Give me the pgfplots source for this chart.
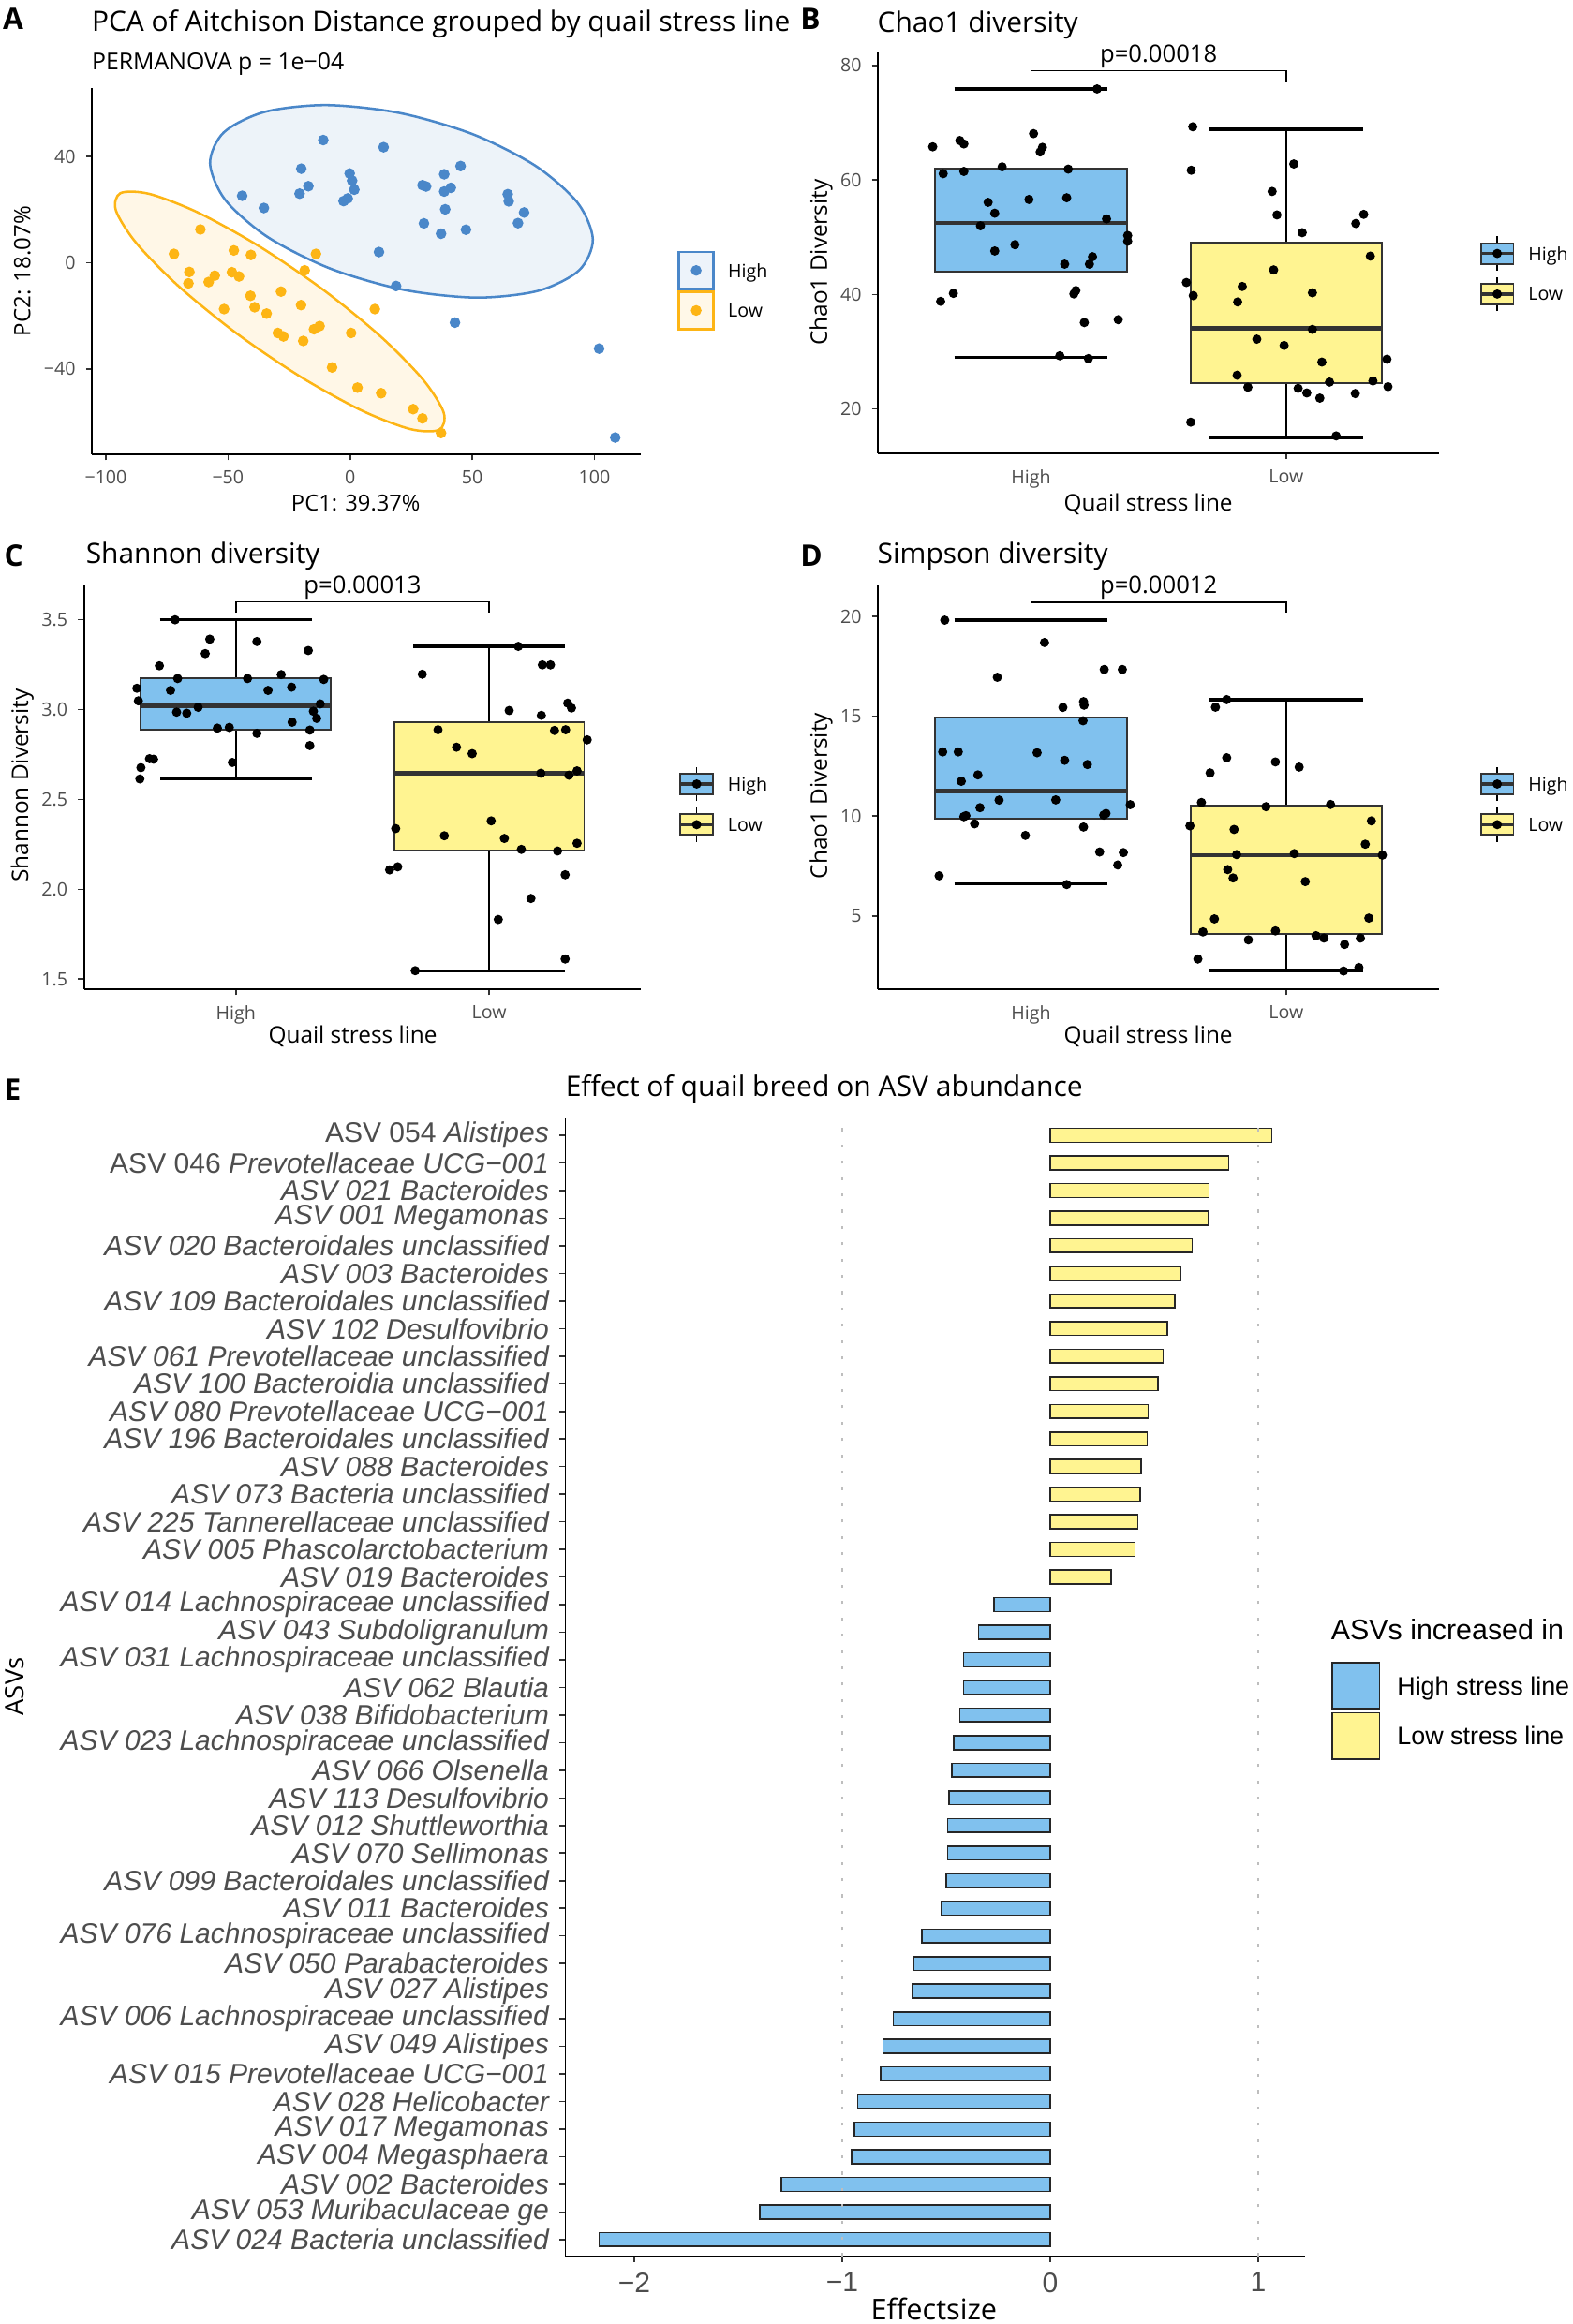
\documentclass[border=0pt]{standalone}
\usepackage{fontspec}
\setmainfont{Open Sans}
\newfontfamily\arial{Liberation Sans}
\usepackage{pgfplots}
\pgfplotsset{compat=1.18}
\usepgfplotslibrary{statistics}
\newcommand\fs[1]{\fontsize{#1}{#1}\selectfont}
\definecolor{hiblue}{HTML}{4A87C9}
\definecolor{loorange}{HTML}{FDB515}
\definecolor{boxblue}{HTML}{80C1EE}
\definecolor{boxyellow}{HTML}{FFF491}
\definecolor{edge}{HTML}{333333}
\definecolor{tickgrey}{HTML}{4D4D4D}
\definecolor{dotgrey}{HTML}{BEBEBE}
\tikzset{txt/.style={inner sep=0pt, outer sep=0pt}}
\pgfplotsset{
  ggaxis/.style={scale only axis, anchor=north west, clip=false,
    axis x line*=bottom, axis y line*=left,
    axis line style={black, line width=0.6pt, -},
    tick align=outside, major tick length=2pt,
    tick style={edge, line width=0.5pt},
    ticklabel style={font=\fs{6.2}, text=tickgrey},
    legend cell align=left},
  gglegend/.style={legend style={draw=none, fill=none, at={#1}, anchor=north west,
    inner sep=0pt, outer sep=0pt, row sep=0pt, font=\fs{6.2},
    cells={anchor=west}, nodes={inner sep=0pt, outer sep=0pt, text depth=0pt}}},
  ggbox/.style 2 args={forget plot,
    boxplot prepared={#1},
    boxplot/draw direction=y,
    boxplot/box extend=0.75,
    boxplot/whisker extend=0.6,
    boxplot/every box/.style={draw=edge, fill=#2, line width=0.6pt},
    boxplot/every median/.style={draw=edge, line width=1.5pt},
    boxplot/draw/lower whisker/.code={
      \draw[black, line width=0.55pt] (boxplot box cs:\pgfplotsboxplotvalue{lower whisker},0.5) -- (boxplot box cs:\pgfplotsboxplotvalue{lower quartile},0.5);
      \draw[black, line width=1.1pt] (boxplot whisker cs:\pgfplotsboxplotvalue{lower whisker},0) -- (boxplot whisker cs:\pgfplotsboxplotvalue{lower whisker},1);},
    boxplot/draw/upper whisker/.code={
      \draw[black, line width=0.55pt] (boxplot box cs:\pgfplotsboxplotvalue{upper whisker},0.5) -- (boxplot box cs:\pgfplotsboxplotvalue{upper quartile},0.5);
      \draw[black, line width=1.1pt] (boxplot whisker cs:\pgfplotsboxplotvalue{upper whisker},0) -- (boxplot whisker cs:\pgfplotsboxplotvalue{upper whisker},1);}
  },
  jit/.style={forget plot, only marks, mark=*, mark size=1.35pt, black},
  boxkey/.style={legend image code/.code={\path[draw=none, fill=none] (0pt,-6.85pt) rectangle (16pt,6.85pt);
     \draw[black, line width=0.5pt] (5.5pt,-5.75pt) -- (5.5pt,5.75pt);
     \draw[edge, fill=#1, line width=0.6pt] (0pt,-3.5pt) rectangle (11pt,3.5pt);
     \draw[edge, line width=1pt] (0pt,0pt) -- (11pt,0pt);
     \fill[black] (5.5pt,0pt) circle (1.35pt);}},
}
\begin{document}
\begin{tikzpicture}
\useasboundingbox (0,0) rectangle (530.5pt,-784pt);
% ---------------- Panel A ----------------
\node[txt, anchor=base west, font=\bfseries\fs{10}] at (1pt,-10pt) {A};
\node[txt, anchor=base west, font=\fs{9.45}] at (31pt,-10.5pt) {PCA of Aitchison Distance grouped by quail stress line};
\node[txt, anchor=base west, font=\fs{7.85}] at (31pt,-23.5pt) {PERMANOVA p = 1e−04};
\node[txt, rotate=90, font=\fs{7.6}] at (7.5pt,-91.5pt) {PC2: 18.07\%};
\node[txt, anchor=base, font=\fs{7.5}] at (120pt,-172.5pt) {PC1: 39.37\%};
\begin{axis}[ggaxis, at={(31pt,-29.7pt)}, width=185pt, height=123.55pt,
  xmin=-105.7, xmax=118.8, ymin=-72.2, ymax=65.8,
  xtick={-100,-50,0,50,100}, xticklabels={−100,−50,0,50,100},
  ytick={-40,0,40}, yticklabels={−40,0,40},
  gglegend={(1.068,0.5565)}]
\addplot[forget plot, smooth cycle, draw=hiblue, line width=0.8pt, fill=hiblue, fill opacity=0.1, draw opacity=1] coordinates {
(93.7,-2.9)(77.0,-10.6)(51.76,-13.17)(21.84,-10.22)(-8.2,-2.2)(-33.8,9.68)(-51.06,23.59)(-57.34,37.44)(-51.7,49.1)(-35.0,56.8)(-9.76,59.37)(20.16,56.42)(50.2,48.4)(75.8,36.52)(93.06,22.61)(99.34,8.76)};
\addplot[forget plot, smooth cycle, draw=loorange, line width=0.8pt, fill=loorange, fill opacity=0.1, draw opacity=1] coordinates {
(36.4,-63.0)(24.59,-62.71)(4.64,-55.67)(-20.39,-42.95)(-46.7,-26.5)(-70.29,-8.81)(-87.56,7.41)(-95.89,19.71)(-94.0,26.2)(-82.19,25.91)(-62.24,18.87)(-37.21,6.15)(-10.9,-10.3)(12.69,-27.99)(29.96,-44.21)(38.29,-56.51)};
\addplot[forget plot, only marks, mark=*, mark size=1.6pt, hiblue] coordinates {
(-11,46.2)(13.7,43.5)(-20,35.4)(-17.1,28.8)(-20.7,26)(-44.2,25.2)(-35.3,20.6)(-0.2,33.6)(0.8,30.9)(1.7,27.5)(-2.7,23.2)(-1,24.2)(29.6,29.2)(31.1,28.7)(38.5,33.3)(45.2,36.4)(38.5,26.8)(41.2,28.2)(38.9,20.1)(30.2,14.8)(37.2,10.9)(47.4,12.4)(64.5,25.8)(64.9,23.1)(71.2,18.9)(68.7,14.9)(11.8,4.0)(18.8,-8.8)(42.9,-22.6)(101.9,-32.4)(108.5,-65.9)};
\addplot[forget plot, only marks, mark=*, mark size=1.6pt, loorange] coordinates {
(-61.3,12.5)(-72.1,3.3)(-47.6,4.6)(-40.6,2.9)(-14,3.3)(-65.8,-3.5)(-66.2,-7.8)(-57.9,-7.3)(-55.4,-4.9)(-48.4,-3.6)(-45.5,-5.2)(-18.6,-2.9)(-28.3,-10.9)(-40.8,-12.5)(-51.6,-17.5)(-39.1,-16.8)(-34.2,-19.2)(-20.1,-16)(10.1,-17.5)(-29.6,-26.5)(-27.3,-27.8)(-19.2,-29.5)(-14.8,-25.1)(-12.5,-23.9)(0.4,-26.5)(-7.4,-39.5)(3,-47.1)(12.7,-49.2)(25.8,-55.2)(29.6,-58.7)(37.2,-64.2)};
\addlegendimage{legend image code/.code={\path[draw=none, fill=none] (0pt,-6.75pt) rectangle (17pt,6.75pt);
  \draw[hiblue, fill=hiblue!10, line width=0.8pt] (0.4pt,-6.3pt) rectangle (12.1pt,6.3pt);
  \fill[hiblue] (6.25pt,0pt) circle (1.6pt);}}
\addlegendentry{High}
\addlegendimage{legend image code/.code={\path[draw=none, fill=none] (0pt,-6.75pt) rectangle (17pt,6.75pt);
  \draw[loorange, fill=loorange!10, line width=0.8pt] (0.4pt,-6.3pt) rectangle (12.1pt,6.3pt);
  \fill[loorange] (6.25pt,0pt) circle (1.6pt);}}
\addlegendentry{Low}
\end{axis}
% ---------------- Panel B ----------------
\node[txt, anchor=base west, font=\bfseries\fs{10}] at (270pt,-10pt) {B};
\node[txt, anchor=base west, font=\fs{9.45}] at (296pt,-11pt) {Chao1 diversity};
\node[txt, rotate=90, font=\fs{7.7}] at (277pt,-88.5pt) {Chao1 Diversity};
\node[txt, anchor=base, font=\fs{7.7}] at (387.3pt,-172.5pt) {Quail stress line};
\begin{axis}[ggaxis, at={(296.1pt,-17.85pt)}, width=189.35pt, height=135pt,
  xmin=0.4, xmax=2.6, ymin=12.3, ymax=82.2,
  xtick={1,2}, xticklabels={High,Low},
  ytick={20,40,60,80}, yticklabels={20,40,60,80},
  gglegend={(1.0716,0.5496)}]
\addplot[ggbox={median=52.5, upper quartile=62.0, lower quartile=44.0, upper whisker=75.9, lower whisker=29.0, draw position=1}{boxblue}] coordinates {};
\addplot[ggbox={median=34.1, upper quartile=49.05, lower quartile=24.5, upper whisker=68.9, lower whisker=15.0, draw position=2}{boxyellow}] coordinates {};
\addplot[jit] coordinates {
(1.259,75.9)(1.01,68.1)(0.615,65.8)(0.721,66.9)(0.737,66.3)(1.036,64.9)(1.045,65.7)(0.656,61.1)(0.737,61.5)(0.887,62.3)(1.146,61.9)(0.832,56.1)(0.992,56.6)(1.140,56.9)(0.858,54.2)(0.802,52.0)(1.296,53.2)(1.379,50.3)(1.379,49.3)(0.937,48.7)(0.858,47.6)(1.241,46.6)(1.132,45.3)(1.229,45.3)(0.696,40.2)(0.646,38.8)(1.176,40.7)(1.168,40.1)(1.209,35.1)(1.342,35.6)(1.113,29.3)(1.225,28.8)};
\addplot[jit] coordinates {
(1.634,69.3)(1.628,61.7)(2.030,62.8)(1.945,58.0)(1.964,53.9)(2.304,54.0)(2.273,52.4)(2.063,50.8)(2.330,46.7)(1.951,44.3)(1.828,41.4)(2.103,40.3)(1.609,42.1)(1.636,39.8)(1.810,38.7)(2.103,33.9)(1.885,32.2)(1.992,31.1)(2.140,28.2)(2.395,28.7)(1.808,25.9)(2.170,24.7)(2.340,24.9)(2.399,23.9)(1.850,23.8)(2.047,23.6)(2.081,22.8)(2.132,21.9)(2.271,22.7)(1.626,17.7)(2.196,15.3)};
\addplot[forget plot, black, line width=0.5pt] coordinates {(1,77.1)(1,79.07)(2,79.07)(2,77.1)};
\node[anchor=south, font=\fs{8.1}, inner sep=0.8pt] at (axis cs:1.5,79.07) {p=0.00018};
\addlegendimage{boxkey=boxblue}\addlegendentry{High}
\addlegendimage{boxkey=boxyellow}\addlegendentry{Low}
\end{axis}
% ---------------- Panel C ----------------
\node[txt, anchor=base west, font=\bfseries\fs{10}] at (1.5pt,-191pt) {C};
\node[txt, anchor=base west, font=\fs{9.45}] at (29pt,-190pt) {Shannon diversity};
\node[txt, rotate=90, font=\fs{7.7}] at (7.5pt,-265pt) {Shannon Diversity};
\node[txt, anchor=base, font=\fs{7.7}] at (119pt,-352pt) {Quail stress line};
\begin{axis}[ggaxis, at={(28.3pt,-197.15pt)}, width=187.95pt, height=136.55pt,
  xmin=0.4, xmax=2.6, ymin=1.444, ymax=3.697,
  xtick={1,2}, xticklabels={High,Low},
  ytick={1.5,2,2.5,3,3.5}, yticklabels={1.5,2.0,2.5,3.0,3.5},
  gglegend={(1.0678,0.557)}]
\addplot[ggbox={median=3.02, upper quartile=3.173, lower quartile=2.89, upper whisker=3.5, lower whisker=2.616, draw position=1}{boxblue}] coordinates {};
\addplot[ggbox={median=2.646, upper quartile=2.931, lower quartile=2.217, upper whisker=3.352, lower whisker=1.547, draw position=2}{boxyellow}] coordinates {};
\addplot[jit] coordinates {
(0.760,3.500)(0.897,3.392)(1.083,3.379)(0.879,3.312)(1.286,3.329)(0.698,3.244)(0.770,3.173)(1.046,3.173)(1.179,3.195)(1.347,3.168)(0.609,3.119)(0.742,3.107)(1.127,3.107)(1.220,3.125)(0.615,3.049)(0.851,3.013)(1.333,3.032)(0.766,2.986)(0.806,2.980)(1.306,2.991)(1.319,2.951)(1.222,2.930)(0.927,2.897)(0.974,2.901)(1.292,2.886)(1.083,2.868)(1.292,2.800)(0.659,2.727)(0.675,2.724)(0.625,2.677)(0.986,2.706)(0.621,2.614)};
\addplot[jit] coordinates {
(2.115,3.352)(2.210,3.249)(2.242,3.249)(1.736,3.197)(2.310,3.036)(2.325,3.009)(2.079,2.995)(2.206,2.968)(1.798,2.888)(2.258,2.884)(2.302,2.888)(2.387,2.832)(1.871,2.791)(1.933,2.755)(2.204,2.646)(2.315,2.635)(2.347,2.659)(2.008,2.381)(1.631,2.338)(1.823,2.298)(2.060,2.283)(2.127,2.222)(2.270,2.213)(2.347,2.256)(1.607,2.108)(1.639,2.125)(2.300,2.081)(2.165,1.949)(2.036,1.832)(2.300,1.612)(1.708,1.547)};
\addplot[forget plot, black, line width=0.5pt] coordinates {(1,3.54)(1,3.599)(2,3.599)(2,3.54)};
\node[anchor=south, font=\fs{8.1}, inner sep=0.8pt] at (axis cs:1.5,3.599) {p=0.00013};
\addlegendimage{boxkey=boxblue}\addlegendentry{High}
\addlegendimage{boxkey=boxyellow}\addlegendentry{Low}
\end{axis}
% ---------------- Panel D ----------------
\node[txt, anchor=base west, font=\bfseries\fs{10}] at (270pt,-191pt) {D};
\node[txt, anchor=base west, font=\fs{9.45}] at (296pt,-190pt) {Simpson diversity};
\node[txt, rotate=90, font=\fs{7.7}] at (277pt,-268.5pt) {Chao1 Diversity};
\node[txt, anchor=base, font=\fs{7.7}] at (387.3pt,-352pt) {Quail stress line};
\begin{axis}[ggaxis, at={(296.1pt,-197.15pt)}, width=189.35pt, height=136.55pt,
  xmin=0.4, xmax=2.6, ymin=1.33, ymax=21.6,
  xtick={1,2}, xticklabels={High,Low},
  ytick={5,10,15,20}, yticklabels={5,10,15,20},
  gglegend={(1.0716,0.557)}]
\addplot[ggbox={median=11.25, upper quartile=14.95, lower quartile=9.85, upper whisker=19.82, lower whisker=6.61, draw position=1}{boxblue}] coordinates {};
\addplot[ggbox={median=8.04, upper quartile=10.54, lower quartile=4.11, upper whisker=15.83, lower whisker=2.26, draw position=2}{boxyellow}] coordinates {};
\addplot[jit] coordinates {
(0.662,19.81)(1.053,18.69)(0.868,16.95)(1.287,17.34)(1.358,17.34)(1.125,15.44)(1.206,15.73)(1.208,15.55)(1.204,14.77)(0.654,13.21)(0.715,13.21)(1.024,13.17)(1.132,12.79)(1.221,12.58)(0.792,12.06)(0.727,11.74)(0.875,10.80)(1.097,10.81)(1.389,10.57)(0.800,10.42)(0.737,9.97)(0.745,10.02)(1.294,10.13)(1.285,10.05)(0.779,9.61)(1.206,9.45)(0.978,9.03)(1.269,8.20)(1.362,8.17)(1.340,7.55)(0.640,7.01)(1.140,6.57)};
\addplot[jit] coordinates {
(1.767,15.83)(1.723,15.45)(1.767,12.92)(1.958,12.71)(2.051,12.45)(1.702,12.16)(1.668,10.68)(1.921,10.47)(2.174,10.58)(2.334,9.76)(1.623,9.51)(1.796,9.33)(2.310,8.59)(1.806,8.07)(2.032,8.12)(2.377,8.04)(1.771,7.32)(1.792,6.90)(2.075,6.72)(1.719,4.85)(2.324,4.89)(1.674,4.20)(1.958,4.25)(2.117,4.01)(2.148,3.89)(1.852,3.80)(2.291,3.89)(2.229,3.57)(1.654,2.84)(2.225,2.24)(2.285,2.42)};
\addplot[forget plot, black, line width=0.5pt] coordinates {(1,20.18)(1,20.71)(2,20.71)(2,20.18)};
\node[anchor=south, font=\fs{8.1}, inner sep=0.8pt] at (axis cs:1.5,20.71) {p=0.00012};
\addlegendimage{boxkey=boxblue}\addlegendentry{High}
\addlegendimage{boxkey=boxyellow}\addlegendentry{Low}
\end{axis}
% ---------------- Panel E ----------------
\node[txt, anchor=base west, font=\bfseries\fs{10}] at (1.5pt,-371pt) {E};
\node[txt, anchor=base, font=\fs{9.5}] at (278pt,-370pt) {Effect of quail breed on ASV abundance};
\node[txt, rotate=90, font=\fs{8.7}] at (5pt,-569pt) {ASVs};
\node[txt, anchor=base, font=\fs{9.7}] at (315pt,-782.5pt) {Effectsize};
\node[txt, anchor=base west, font=\arial\fs{9.6}] at (449pt,-553pt) {ASVs increased in};
\begin{axis}[ggaxis, at={(190.7pt,-377.4pt)}, width=249.6pt, height=383.7pt,
  xmin=-2.331, xmax=1.227, ymin=0.4, ymax=41.6,
  xtick={-2,-1,0,1}, xticklabels={−2,−1,0,1},
  xticklabel style={font=\arial\fs{9.5}, text=tickgrey},
  ytick={1,...,41},
  yticklabel style={font=\arial\itshape\fs{9.5}, text=tickgrey},
  yticklabels={
   ASV 024 Bacteria unclassified,
   ASV 053 Muribaculaceae ge,
   ASV 002 Bacteroides,
   ASV 004 Megasphaera,
   ASV 017 Megamonas,
   ASV 028 Helicobacter,
   ASV 015 Prevotellaceae UCG−001,
   ASV 049 Alistipes,
   ASV 006 Lachnospiraceae unclassified,
   ASV 027 Alistipes,
   ASV 050 Parabacteroides,
   ASV 076 Lachnospiraceae unclassified,
   ASV 011 Bacteroides,
   ASV 099 Bacteroidales unclassified,
   ASV 070 Sellimonas,
   ASV 012 Shuttleworthia,
   ASV 113 Desulfovibrio,
   ASV 066 Olsenella,
   ASV 023 Lachnospiraceae unclassified,
   ASV 038 Bifidobacterium,
   ASV 062 Blautia,
   ASV 031 Lachnospiraceae unclassified,
   ASV 043 Subdoligranulum,
   ASV 014 Lachnospiraceae unclassified,
   ASV 019 Bacteroides,
   ASV 005 Phascolarctobacterium,
   ASV 225 Tannerellaceae unclassified,
   ASV 073 Bacteria unclassified,
   ASV 088 Bacteroides,
   ASV 196 Bacteroidales unclassified,
   ASV 080 Prevotellaceae UCG−001,
   ASV 100 Bacteroidia unclassified,
   ASV 061 Prevotellaceae unclassified,
   ASV 102 Desulfovibrio,
   ASV 109 Bacteroidales unclassified,
   ASV 003 Bacteroides,
   ASV 020 Bacteroidales unclassified,
   ASV 001 Megamonas,
   ASV 021 Bacteroides,
   {{\upshape ASV 046} Prevotellaceae UCG−001},
   {{\upshape ASV 054} Alistipes}},
  legend style={draw=none, fill=none, at={(1.0349,0.5238)}, anchor=north west,
    inner sep=0pt, outer sep=0pt, row sep=0pt, font=\arial\fs{8.5},
    cells={anchor=west}, nodes={inner sep=0pt, outer sep=0pt, text depth=0pt}}]
\addplot[forget plot, xbar, bar width=0.5, bar shift=0pt, fill=boxblue, draw=black!85, line width=0.5pt] coordinates {
(-2.169,1)(-1.397,2)(-1.293,3)(-0.955,4)(-0.940,5)(-0.926,6)(-0.814,7)(-0.804,8)(-0.754,9)(-0.665,10)(-0.658,11)(-0.618,12)(-0.524,13)(-0.499,14)(-0.494,15)(-0.494,16)(-0.486,17)(-0.474,18)(-0.464,19)(-0.434,20)(-0.417,21)(-0.417,22)(-0.345,23)(-0.270,24)};
\addplot[forget plot, xbar, bar width=0.5, bar shift=0pt, fill=boxyellow, draw=black!85, line width=0.5pt] coordinates {
(0.293,25)(0.407,26)(0.422,27)(0.432,28)(0.437,29)(0.467,30)(0.471,31)(0.519,32)(0.543,33)(0.563,34)(0.598,35)(0.625,36)(0.682,37)(0.762,38)(0.764,39)(0.859,40)(1.065,41)};
\addplot[forget plot, dotgrey, line width=0.9pt, dash pattern=on 1pt off 4.5pt] coordinates {(-1,0.4)(-1,41.6)};
\addplot[forget plot, dotgrey, line width=0.9pt, dash pattern=on 1pt off 4.5pt] coordinates {(1,0.4)(1,41.6)};
\addlegendimage{legend image code/.code={\path[draw=none, fill=none] (0pt,-8.5pt) rectangle (22pt,8.5pt);
  \draw[fill=boxblue, draw=black!85, line width=0.5pt] (0pt,-7.75pt) rectangle (16pt,7.75pt);}}
\addlegendentry{High stress line}
\addlegendimage{legend image code/.code={\path[draw=none, fill=none] (0pt,-8.5pt) rectangle (22pt,8.5pt);
  \draw[fill=boxyellow, draw=black!85, line width=0.5pt] (0pt,-7.75pt) rectangle (16pt,7.75pt);}}
\addlegendentry{Low stress line}
\end{axis}
\end{tikzpicture}
\end{document}
